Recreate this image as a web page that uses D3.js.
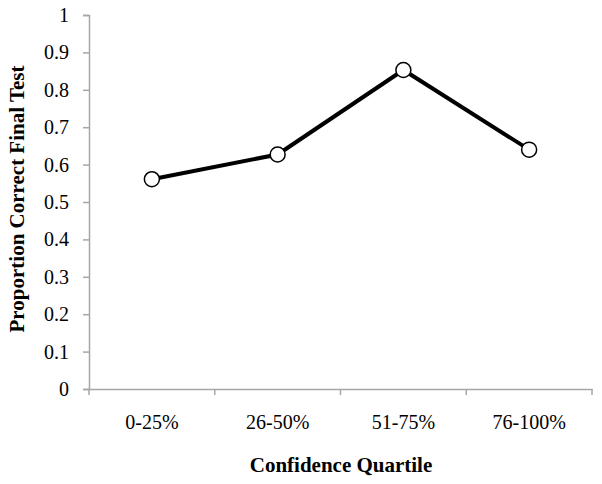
<!DOCTYPE html>
<html><head><meta charset="utf-8">
<script src="https://cdn.jsdelivr.net/npm/d3@7"></script>
<style>body{margin:0;background:#fff} svg text{font-family:"Liberation Serif","Times New Roman","DejaVu Serif",serif;}</style>
</head><body><svg id="c" width="602" height="484"></svg>
<script>
const categories = ["0-25%", "26-50%", "51-75%", "76-100%"];
const values = [0.561, 0.627, 0.853, 0.640];
const yTicks = [0, 0.1, 0.2, 0.3, 0.4, 0.5, 0.6, 0.7, 0.8, 0.9, 1];
const xTitle = "Confidence Quartile";
const yTitle = "Proportion Correct Final Test";

const svg = d3.select("#c");
const x = d3.scaleBand().domain(categories).range([89, 592]);
const y = d3.scaleLinear().domain([0, 1]).range([389, 15]);
const axisColor = "#a6a6a6";

// y axis
const ya = svg.append("g").attr("transform", "translate(89,0)")
  .call(d3.axisLeft(y).tickValues(yTicks).tickSize(6).tickPadding(14).tickFormat(d => String(+d.toFixed(1))));
ya.attr("font-family", null).attr("font-size", null);
ya.select(".domain").attr("stroke", axisColor).attr("stroke-width", 1.5);
ya.selectAll(".tick line").attr("stroke", axisColor).attr("stroke-width", 1.5);
ya.selectAll("text").style("font-size", "20px").attr("fill", "#000");

// x axis
const xa = svg.append("g").attr("transform", "translate(0,389)")
  .call(d3.axisBottom(x).tickSize(0).tickPadding(26));
xa.attr("font-family", null).attr("font-size", null);
xa.select(".domain").attr("stroke", axisColor).attr("stroke-width", 1.5);
xa.selectAll("text").style("font-size", "20px").attr("fill", "#000");
// boundary ticks
const bounds = categories.map(c => x(c)).concat([x.range()[1]]);
svg.append("g").selectAll("line").data(bounds).join("line")
  .attr("x1", d => d).attr("x2", d => d).attr("y1", 389).attr("y2", 395)
  .attr("stroke", axisColor).attr("stroke-width", 1.5);

// line
const line = d3.line().x((d, i) => x(categories[i]) + x.bandwidth() / 2).y(d => y(d));
svg.append("path").datum(values).attr("d", line).attr("fill", "none")
  .attr("stroke", "#000").attr("stroke-width", 4);
svg.append("g").selectAll("circle").data(values).join("circle")
  .attr("cx", (d, i) => x(categories[i]) + x.bandwidth() / 2).attr("cy", d => y(d))
  .attr("r", 7.5).attr("fill", "#fff").attr("stroke", "#000").attr("stroke-width", 1.5);

// titles
svg.append("text").attr("x", 341).attr("y", 472).attr("text-anchor", "middle")
  .style("font-size", "21px").attr("font-weight", "bold").text(xTitle);
svg.append("text").attr("transform", "translate(24,199) rotate(-90)").attr("text-anchor", "middle")
  .style("font-size", "21px").attr("font-weight", "bold").text(yTitle);
</script></body></html>
